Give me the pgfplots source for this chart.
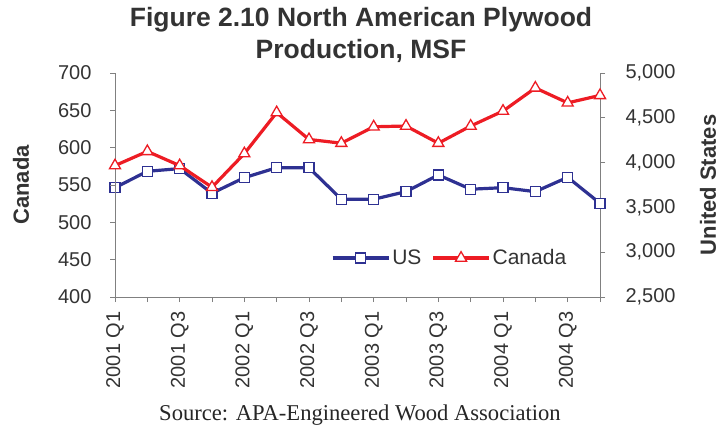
\documentclass[border=0pt]{standalone}
\usepackage{fontspec}
\setmainfont{Liberation Sans}
\newfontfamily\srcfont{Liberation Serif}
\usepackage{pgfplots}
\pgfplotsset{compat=1.18}
\definecolor{usblue}{RGB}{46,49,146}
\definecolor{canred}{RGB}{237,28,36}
\definecolor{txt}{RGB}{51,51,51}
\definecolor{axgray}{RGB}{128,128,128}

\pgfplotstableread{
q US
0 3720
1 3903
2 3933
3 3658
4 3832
5 3943
6 3943
7 3591
8 3591
9 3676
10 3862
11 3703
12 3720
13 3676
14 3836
15 3546
}\usdata

\pgfplotstableread{
q Canada
0 576
1 595
2 576
3 547
4 592
5 647
6 611
7 606
8 628
9 629
10 606
11 629
12 649
13 680
14 660
15 670
}\candata

\pgfplotsset{
  base/.style={scale only axis, width=485pt, height=224pt, at={(115pt,132pt)}, anchor=south west,
    xmin=0, xmax=15, tick align=outside, major tick length=5pt,
    axis line style={axgray, line width=0.8pt}, tick style={axgray, line width=0.8pt},
    ticklabel style={font=\fontsize{20}{24}\selectfont, text=txt},
    /pgf/number format/assume math mode=true,
    label style={font=\fontsize{22}{26}\selectfont\bfseries, text=txt},
    clip=false,
  },
  usstyle/.style={usblue, line width=3.2pt, mark=square*, mark size=5pt,
    mark options={fill=white, draw=usblue, line width=1.3pt, solid}},
  canstyle/.style={canred, line width=3.2pt, mark=triangle*, mark size=6.4pt,
    mark options={fill=white, draw=canred, line width=1.3pt, solid}},
}

\begin{document}
\begin{tikzpicture}
\useasboundingbox (0,0) rectangle (726pt,429pt);

\begin{axis}[base, axis x line=none, axis y line*=right,
  ymin=2500, ymax=5000, ytick={2500,3000,...,5000},
  yticklabel style={xshift=17pt},
  ylabel={United States},
  ylabel style={at={(axis description cs:1.2227,0.5)}, anchor=center, rotate=0},
]
\addplot[usstyle] table[x=q, y=US] {\usdata};
\end{axis}

\begin{axis}[base, axis x line*=bottom, axis y line*=left,
  ymin=400, ymax=700, ytick={400,450,...,700},
  yticklabel style={xshift=-15pt},
  xtick={0,...,15},
  xticklabels={2001 Q1,,2001 Q3,,2002 Q1,,2002 Q3,,2003 Q1,,2003 Q3,,2004 Q1,,2004 Q3,},
  xticklabel style={rotate=90, anchor=east},
  xticklabel shift=6pt,
  ylabel={Canada},
  ylabel style={at={(axis description cs:-0.1938,0.5)}, anchor=center},
  legend style={draw=none, fill=none, at={(0.69,0.174)}, anchor=center,
    legend columns=2, font=\fontsize{21}{25}\selectfont, text=txt,
    /tikz/every even column/.append style={column sep=8pt}},
  legend image code/.code={\draw[mark repeat=2,mark phase=2] plot coordinates {(0pt,0pt) (28pt,0pt) (56pt,0pt)};},
]
\addlegendimage{usstyle}
\addlegendentry{US}
\addplot[canstyle] table[x=q, y=Canada] {\candata};
\addlegendentry{Canada}
\end{axis}

\node[font=\fontsize{26.5}{30}\selectfont\bfseries, text=txt, anchor=base] at (361pt,402pt) {Figure 2.10 North American Plywood};
\node[font=\fontsize{26.5}{30}\selectfont\bfseries, text=txt, anchor=base] at (361pt,370pt) {Production, MSF};
\node[font=\srcfont\fontsize{22.6}{26}\selectfont, text=black!85, anchor=base] at (360pt,9pt) {Source: APA-Engineered Wood Association};
\end{tikzpicture}
\end{document}
